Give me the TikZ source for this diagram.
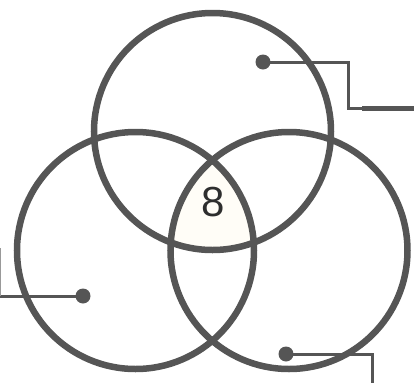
\documentclass[tikz,border=0pt]{standalone}
\usepackage{fontspec}
\setmainfont{Liberation Sans}
\begin{document}
\begin{tikzpicture}[x=1bp,y=-1bp,
  ring/.style={draw=ringgray,line width=6.5bp},
  leader/.style={draw=ringgray,line width=3bp},
  dotmark/.style={circle,fill=ringgray,inner sep=0pt,minimum size=15bp},
  num/.style={font=\fontsize{42bp}{42bp}\selectfont,text=numgray,inner sep=0pt}]
\definecolor{ringgray}{HTML}{555555}
\definecolor{numgray}{HTML}{2E2E2E}
\definecolor{cream}{HTML}{FFFDF7}
\useasboundingbox (0,0) rectangle (414,383);
\coordinate (ct) at (212.5,131.5);
\coordinate (cl) at (135.5,250.5);
\coordinate (cr) at (289,250.5);
\begin{scope}
  \clip (ct) circle (118.5bp);
  \clip (cl) circle (118.5bp);
  \fill[cream] (cr) circle (118.5bp);
\end{scope}
\draw[ring] (ct) circle (118.5bp);
\draw[ring] (cl) circle (118.5bp);
\draw[ring] (cr) circle (118.5bp);
\node[num] (n8) at (213,202) {8};
% top leader
\node[dotmark] (d1) at (263,62) {};
\coordinate (t1) at (348,62);
\coordinate (t2) at (348,108.5);
\coordinate (t3) at (362,108.5);
\coordinate (t4) at (414,108.5);
\draw[leader,line join=miter] (d1.center) -- (t1) -- (t2) -- (t3);
\draw[draw=ringgray,line width=4.5bp] (t3) -- (t4);
% left leader
\node[dotmark] (d2) at (83,296) {};
\coordinate (l1) at (0,296);
\coordinate (l2) at (0,248);
\draw[leader] (d2.center) -- (l1);
\draw[draw=ringgray!60,line width=2.5bp] (l1) -- (l2);
% bottom right leader
\node[dotmark] (d3) at (286,354) {};
\coordinate (r1) at (372,354);
\coordinate (r2) at (372,383);
\draw[leader,line join=miter] (d3.center) -- (r1) -- (r2);
\end{tikzpicture}
\end{document}
